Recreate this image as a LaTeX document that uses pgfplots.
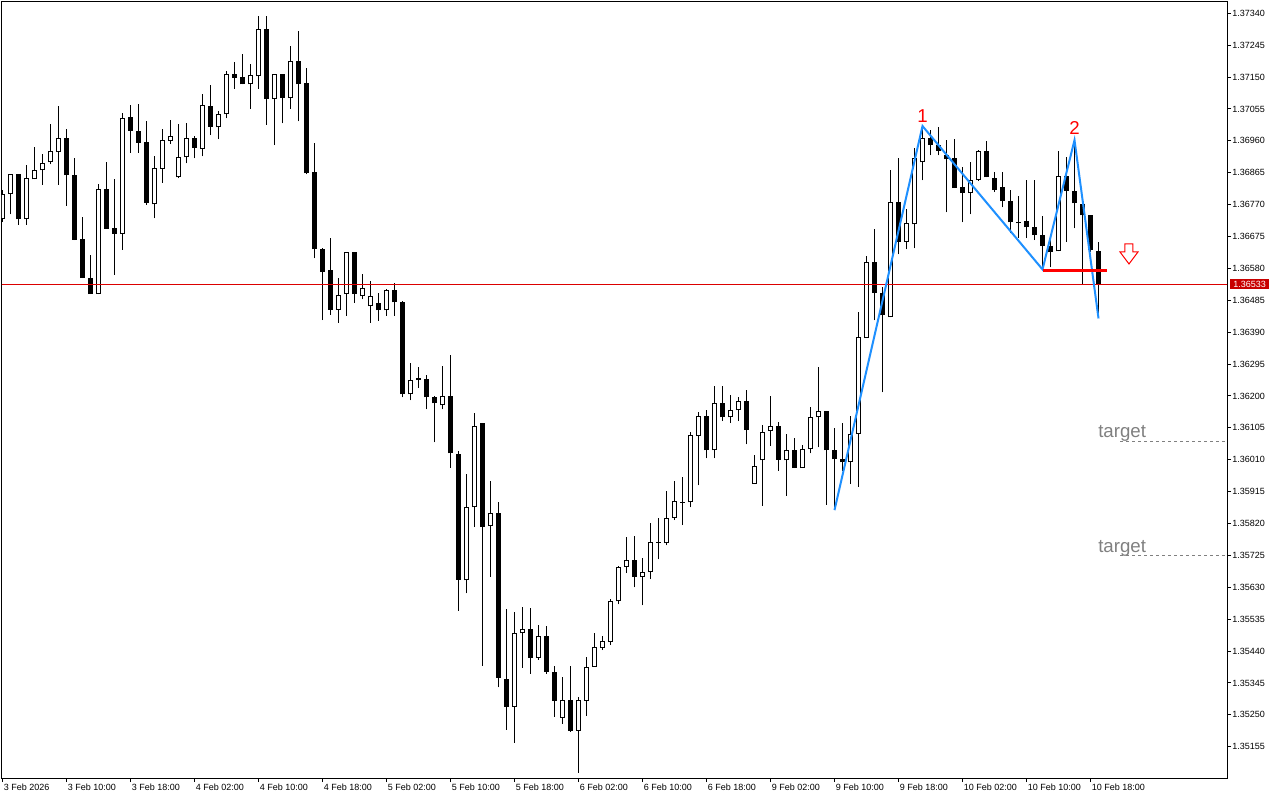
\documentclass[border=0pt]{standalone}
\usepackage{pgfplots}
\pgfplotsset{compat=1.18}
\usepackage{pgfplotstable}
\usepackage{fontspec}
\setmainfont{Liberation Sans}
\definecolor{zz}{RGB}{30,144,255}
\definecolor{bidred}{RGB}{220,0,0}
\definecolor{boxred}{RGB}{200,0,0}
\definecolor{tgray}{RGB}{128,128,128}

\pgfplotstableread{
k O H L C
0 1.36726 1.36814 1.36718 1.36801
1 1.36801 1.36860 1.36741 1.36860
2 1.36860 1.36860 1.36710 1.36726
3 1.36726 1.36887 1.36710 1.36848
4 1.36845 1.36942 1.36845 1.36872
5 1.36872 1.36921 1.36829 1.36893
6 1.36896 1.37010 1.36890 1.36929
7 1.36926 1.37064 1.36829 1.36968
8 1.36968 1.36994 1.36767 1.36857
9 1.36857 1.36908 1.36664 1.36666
10 1.36667 1.36733 1.36551 1.36551
11 1.36551 1.36621 1.36503 1.36503
12 1.36503 1.36831 1.36503 1.36816
13 1.36816 1.36896 1.36698 1.36698
14 1.36700 1.36845 1.36561 1.36683
15 1.36683 1.37042 1.36636 1.37027
16 1.37030 1.37067 1.36925 1.36990
17 1.36988 1.37070 1.36925 1.36955
18 1.36956 1.37018 1.36770 1.36776
19 1.36771 1.36914 1.36729 1.36878
20 1.36877 1.36994 1.36835 1.36962
21 1.36959 1.37022 1.36950 1.36974
22 1.36851 1.37009 1.36848 1.36911
23 1.36911 1.37012 1.36893 1.36968
24 1.36968 1.36974 1.36908 1.36938
25 1.36935 1.37099 1.36914 1.37066
26 1.37063 1.37125 1.36977 1.37002
27 1.37000 1.37048 1.36965 1.37039
28 1.37039 1.37167 1.37027 1.37158
29 1.37158 1.37194 1.37115 1.37148
30 1.37149 1.37218 1.37128 1.37128
31 1.37128 1.37188 1.37056 1.37155
32 1.37152 1.37332 1.37115 1.37292
33 1.37292 1.37332 1.37008 1.37084
34 1.37084 1.37158 1.36947 1.37158
35 1.37158 1.37158 1.37012 1.37087
36 1.37087 1.37243 1.37056 1.37197
37 1.37197 1.37286 1.37018 1.37128
38 1.37131 1.37176 1.36860 1.36863
39 1.36866 1.36953 1.36610 1.36637
40 1.36638 1.36641 1.36426 1.36570
41 1.36575 1.36671 1.36442 1.36457
42 1.36457 1.36551 1.36418 1.36500
43 1.36503 1.36628 1.36439 1.36628
44 1.36628 1.36628 1.36478 1.36503
45 1.36497 1.36563 1.36488 1.36521
46 1.36467 1.36542 1.36418 1.36497
47 1.36476 1.36506 1.36424 1.36455
48 1.36455 1.36518 1.36439 1.36515
49 1.36515 1.36536 1.36439 1.36479
50 1.36479 1.36482 1.36196 1.36205
51 1.36205 1.36297 1.36187 1.36247
52 1.36247 1.36285 1.36223 1.36253
53 1.36250 1.36262 1.36160 1.36196
54 1.36196 1.36199 1.36062 1.36178
55 1.36172 1.36288 1.36160 1.36199
56 1.36199 1.36321 1.35986 1.36029
57 1.36026 1.36035 1.35560 1.35653
58 1.35651 1.35968 1.35612 1.35868
59 1.35868 1.36148 1.35809 1.36110
60 1.36119 1.36119 1.35396 1.35811
61 1.35812 1.35947 1.35662 1.35850
62 1.35850 1.35883 1.35332 1.35361
63 1.35356 1.35565 1.35205 1.35274
64 1.35274 1.35556 1.35167 1.35493
65 1.35493 1.35570 1.35391 1.35505
66 1.35505 1.35567 1.35373 1.35420
67 1.35420 1.35517 1.35414 1.35484
68 1.35484 1.35514 1.35373 1.35379
69 1.35379 1.35396 1.35245 1.35292
70 1.35242 1.35364 1.35224 1.35295
71 1.35295 1.35396 1.35199 1.35202
72 1.35203 1.35304 1.35078 1.35295
73 1.35292 1.35423 1.35248 1.35393
74 1.35393 1.35493 1.35393 1.35453
75 1.35449 1.35486 1.35443 1.35470
76 1.35467 1.35594 1.35458 1.35589
77 1.35588 1.35693 1.35579 1.35690
78 1.35690 1.35780 1.35672 1.35710
79 1.35710 1.35783 1.35630 1.35660
80 1.35660 1.35716 1.35576 1.35675
81 1.35675 1.35821 1.35654 1.35764
82 1.35765 1.35836 1.35713 1.35762
83 1.35761 1.35916 1.35755 1.35836
84 1.35836 1.35946 1.35830 1.35886
85 1.35885 1.35958 1.35815 1.35882
86 1.35883 1.36092 1.35868 1.36083
87 1.36080 1.36151 1.35934 1.36139
88 1.36139 1.36157 1.36014 1.36038
89 1.36038 1.36229 1.36014 1.36178
90 1.36178 1.36229 1.36125 1.36136
91 1.36136 1.36202 1.36119 1.36157
92 1.36157 1.36196 1.36125 1.36184
93 1.36184 1.36217 1.36056 1.36098
94 1.35937 1.36023 1.35937 1.35990
95 1.36008 1.36113 1.35873 1.36092
96 1.36095 1.36199 1.36052 1.36110
97 1.36110 1.36122 1.35977 1.36010
98 1.36008 1.36086 1.35903 1.36038
99 1.36038 1.36074 1.35985 1.35985
100 1.35985 1.36053 1.35985 1.36041
101 1.36041 1.36166 1.36029 1.36136
102 1.36136 1.36285 1.36047 1.36154
103 1.36154 1.36154 1.35876 1.36038
104 1.36038 1.36104 1.35860 1.36011
105 1.36011 1.36119 1.35977 1.36002
106 1.36002 1.36139 1.35937 1.36086
107 1.36086 1.36449 1.35930 1.36375
108 1.36372 1.36616 1.36372 1.36598
109 1.36598 1.36696 1.36425 1.36506
110 1.36506 1.36524 1.36211 1.36440
111 1.36434 1.36872 1.36434 1.36777
112 1.36777 1.36908 1.36622 1.36658
113 1.36658 1.36756 1.36637 1.36714
114 1.36711 1.36938 1.36640 1.36908
115 1.36896 1.37004 1.36842 1.36968
116 1.36968 1.36991 1.36917 1.36947
117 1.36947 1.37000 1.36917 1.36929
118 1.36917 1.36962 1.36747 1.36905
119 1.36908 1.36965 1.36819 1.36819
120 1.36822 1.36881 1.36717 1.36804
121 1.36804 1.36896 1.36741 1.36842
122 1.36842 1.36932 1.36840 1.36929
123 1.36929 1.36959 1.36851 1.36851
124 1.36848 1.36866 1.36807 1.36813
125 1.36822 1.36866 1.36762 1.36780
126 1.36780 1.36813 1.36685 1.36717
127 1.36717 1.36795 1.36670 1.36714
128 1.36720 1.36842 1.36670 1.36702
129 1.36702 1.36842 1.36664 1.36679
130 1.36679 1.36735 1.36577 1.36646
131 1.36646 1.36670 1.36583 1.36628
132 1.36631 1.36929 1.36631 1.36854
133 1.36854 1.36911 1.36658 1.36810
134 1.36810 1.36962 1.36699 1.36774
135 1.36771 1.36771 1.36533 1.36738
136 1.36738 1.36738 1.36629 1.36634
137 1.36631 1.36658 1.36431 1.36533
}\candles

\begin{document}
\begin{tikzpicture}
\path[use as bounding box, fill=white] (-1.5pt,-16.5pt) rectangle (958.5pt,583.5pt);
\begin{axis}[
  at={(0pt,0pt)}, anchor=south west,
  scale only axis, width=918.75pt, height=582pt,
  xmin=-0.0625, xmax=153.0625,
  ymin=1.350619, ymax=1.373736,
  axis line style={line width=0.75pt, black},
  tick align=outside, major tick length=3pt,
  tick style={black, line width=0.75pt},
  xtick pos=lower, ytick pos=right,
  xticklabel pos=lower, yticklabel pos=right,
  scaled y ticks=false,
  xtick={0,8,...,136},
  xticklabels={3 Feb 2026,3 Feb 10:00,3 Feb 18:00,4 Feb 02:00,4 Feb 10:00,4 Feb 18:00,5 Feb 02:00,5 Feb 10:00,5 Feb 18:00,6 Feb 02:00,6 Feb 10:00,6 Feb 18:00,9 Feb 02:00,9 Feb 10:00,9 Feb 18:00,10 Feb 02:00,10 Feb 10:00,10 Feb 18:00},
  ytick={1.35155,1.35250,1.35345,1.35440,1.35535,1.35630,1.35725,1.35820,1.35915,1.36010,1.36105,1.36200,1.36295,1.36390,1.36485,1.36580,1.36675,1.36770,1.36865,1.36960,1.37055,1.37150,1.37245,1.37340},
  yticklabels={1.35155,1.35250,1.35345,1.35440,1.35535,1.35630,1.35725,1.35820,1.35915,1.36010,1.36105,1.36200,1.36295,1.36390,1.36485,1.36580,1.36675,1.36770,1.36865,1.36960,1.37055,1.37150,1.37245,1.37340},
  ticklabel style={font=\fontsize{6.75}{8}\selectfont},
  xticklabel style={anchor=north west, inner sep=0pt, xshift=0.75pt, yshift=-1.5pt},
  yticklabel style={anchor=west, inner sep=0pt, xshift=0.75pt},
  clip mode=individual,
]
% wicks
\addplot[draw=none, mark=none, error bars/.cd, y dir=plus, y explicit, error mark=none,
  error bar style={draw=black, line width=0.75pt}]
  table[x=k, y=L, y error plus expr={\thisrow{H}-\thisrow{L}}] {\candles};
% bodies (black)
\addplot[draw=none, mark=none, error bars/.cd, y dir=plus, y explicit, error mark=none,
  error bar style={draw=black, line width=3.75pt}]
  table[x=k, y expr={min(\thisrow{O},\thisrow{C})}, y error plus expr={abs(\thisrow{C}-\thisrow{O})}] {\candles};
% hollow interior for bullish candles
\addplot[draw=none, mark=none, error bars/.cd, y dir=plus, y explicit, error mark=none,
  error bar style={draw=white, line width=2.25pt}]
  table[x=k, y expr={\thisrow{O}+0.00003}, y error plus expr={max(\thisrow{C}-\thisrow{O}-0.00006,0)}] {\candles};
% bid line
\addplot[bidred, line width=0.75pt] coordinates {(-1,1.36533) (160,1.36533)};
% zigzag
\addplot[zz, line width=1.5pt] coordinates {(104,1.35860) (115,1.37004) (130,1.36577) (134,1.36962) (137,1.36431)};
% neckline
\addplot[red, line width=2.25pt] coordinates {(130,1.36574) (138,1.36574)};
% target lines
\addplot[tgray, line width=0.75pt, dash pattern=on 2.25pt off 2.25pt] coordinates {(139.7,1.36064) (160,1.36064)};
\addplot[tgray, line width=0.75pt, dash pattern=on 2.25pt off 2.25pt] coordinates {(139.7,1.35724) (160,1.35724)};

\node[text=red, font=\fontsize{14}{16}\selectfont, inner sep=0pt] at (axis cs:115,1.37034) {1};
\node[text=red, font=\fontsize{14}{16}\selectfont, inner sep=0pt] at (axis cs:134,1.36998) {2};
\node[anchor=base west, text=tgray, font=\fontsize{14}{16}\selectfont, inner sep=0pt] at (axis cs:136.94,1.36075) {target};
\node[anchor=base west, text=tgray, font=\fontsize{14}{16}\selectfont, inner sep=0pt] at (axis cs:136.94,1.35735) {target};
\draw[red, line width=0.75pt, line join=miter, shift={(axis cs:140.81,1.36623)}]
  (-3pt,7.5pt) -- (3pt,7.5pt) -- (3pt,1.5pt) -- (6.75pt,1.5pt) -- (0pt,-7.5pt) -- (-6.75pt,1.5pt) -- (-3pt,1.5pt) -- cycle;
\node[anchor=west, fill=boxred, text=white, inner xsep=2.25pt, inner ysep=0pt, minimum height=7.5pt,
  font=\fontsize{6.75}{8}\selectfont, xshift=2.25pt] at (axis cs:153.0625,1.36533) {1.36533};
\end{axis}
\end{tikzpicture}
\end{document}
